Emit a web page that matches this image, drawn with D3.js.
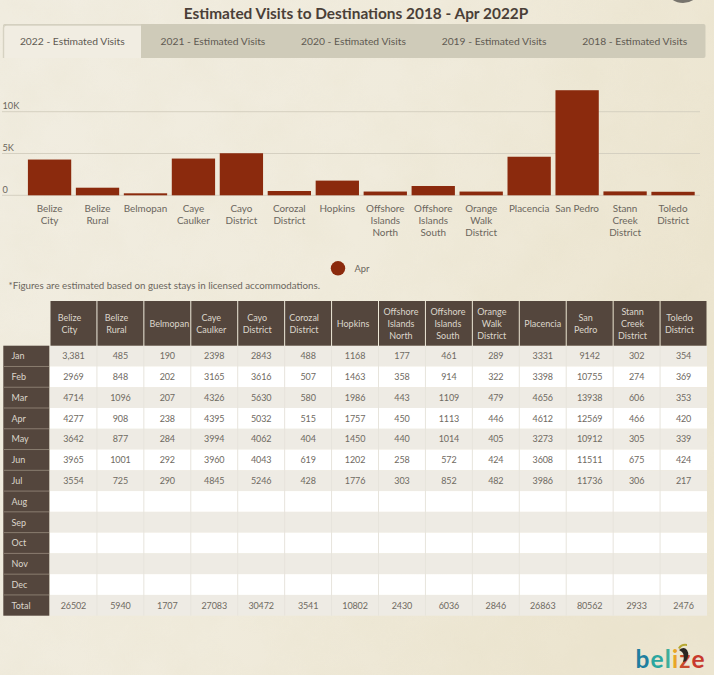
<!DOCTYPE html>
<html><head><meta charset="utf-8">
<script src="https://cdn.jsdelivr.net/npm/d3@7"></script>
<style>
html,body{margin:0;padding:0;background:#f0ebdd;overflow:hidden}
svg{display:block}
text{font-family:"Lato","Noto Sans",sans-serif}
</style></head><body>
<svg id="c" width="714" height="675"></svg>
<script>
const titleText = "Estimated Visits to Destinations 2018 - Apr 2022P";
const tabs = ["2022 - Estimated Visits","2021 - Estimated Visits","2020 - Estimated Visits","2019 - Estimated Visits","2018 - Estimated Visits"];
const note = "*Figures are estimated based on guest stays in licensed accommodations.";
const legendLabel = "Apr";
const yTicks = [0,5000,10000];
const yTickLabels = ["0","5K","10K"];
const destinations = ["Belize City","Belize Rural","Belmopan","Caye Caulker","Cayo District","Corozal District","Hopkins","Offshore Islands North","Offshore Islands South","Orange Walk District","Placencia","San Pedro","Stann Creek District","Toledo District"];
const months = ["Jan","Feb","Mar","Apr","May","Jun","Jul","Aug","Sep","Oct","Nov","Dec","Total"];
const jan = [3381,485,190,2398,2843,488,1168,177,461,289,3331,9142,302,354];
const feb = [2969,848,202,3165,3616,507,1463,358,914,322,3398,10755,274,369];
const mar = [4714,1096,207,4326,5630,580,1986,443,1109,479,4656,13938,606,353];
const apr = [4277,908,238,4395,5032,515,1757,450,1113,446,4612,12569,466,420];
const may = [3642,877,284,3994,4062,404,1450,440,1014,405,3273,10912,305,339];
const jun = [3965,1001,292,3960,4043,619,1202,258,572,424,3608,11511,675,424];
const jul = [3554,725,290,4845,5246,428,1776,303,852,482,3986,11736,306,217];
const total = [26502,5940,1707,27083,30472,3541,10802,2430,6036,2846,26863,80562,2933,2476];
const tableRows = [jan,feb,mar,apr,may,jun,jul,[],[],[],[],[],total];

const svg = d3.select("#c");
const defs = svg.append("defs");

// paper background
const bg = defs.append("linearGradient").attr("id","paper").attr("x1",0).attr("y1",0).attr("x2",1).attr("y2",0.35);
bg.append("stop").attr("offset",0).attr("stop-color","#f1ede1");
bg.append("stop").attr("offset",0.55).attr("stop-color","#f0ebdc");
bg.append("stop").attr("offset",1).attr("stop-color","#ece5d0");
svg.append("rect").attr("width",714).attr("height",675).attr("fill","url(#paper)");
const tx = defs.append("filter").attr("id","tex").attr("x",0).attr("y",0).attr("width","100%").attr("height","100%");
tx.append("feTurbulence").attr("type","fractalNoise").attr("baseFrequency","0.018").attr("numOctaves",4).attr("seed",7);
tx.append("feColorMatrix").attr("type","matrix").attr("values","0 0 0 0 0.72  0 0 0 0 0.66  0 0 0 0 0.45  0.9 0 0 0 -0.3");
svg.append("rect").attr("width",714).attr("height",675).attr("filter","url(#tex)").attr("opacity",0.22);

// top-right badge sliver
svg.append("ellipse").attr("cx",683).attr("cy",-10).attr("rx",16).attr("ry",13).attr("fill","#77746d");

// title
svg.append("text").attr("x",356).attr("y",19).attr("text-anchor","middle")
  .attr("font-size",15.4).attr("font-weight",700).attr("fill","#4a3f38").text(titleText);

// tabs
const tabX = d3.scaleBand().domain(tabs).range([3,706]);
svg.append("rect").attr("x",3).attr("y",24).attr("width",702.5).attr("height",34).attr("rx",2).attr("fill","#cfcbb9");
svg.append("path").attr("d","M3.5 58V28Q3.5 25 6.5 25H141V58Z").attr("fill","#f1ede2");
svg.append("path").attr("d","M3.5 58V28Q3.5 25 6.5 25H141").attr("fill","none").attr("stroke","#d6d2c2").attr("stroke-width",1.4);
svg.selectAll("text.tab").data(tabs).join("text").attr("class","tab")
  .attr("x",d=>tabX(d)+tabX.bandwidth()/2-1).attr("y",44.5)
  .attr("text-anchor","middle").attr("font-size",10.3).attr("fill","#5f5a52").text(d=>d);

// bar chart
const x = d3.scaleBand().domain(destinations).range([25.6,697]).paddingInner(0.097).paddingOuter(0.048);
const y = d3.scaleLinear().domain([0,10000]).range([195.3,111.7]);
svg.selectAll("line.grid").data(yTicks).join("line").attr("class","grid")
  .attr("x1",2).attr("x2",700).attr("y1",d=>y(d)).attr("y2",d=>y(d))
  .attr("stroke","#d5d0c1").attr("stroke-width",1);
svg.selectAll("text.yt").data(yTicks).join("text").attr("class","yt")
  .attr("x",2.5).attr("y",(d,i)=>y(d)-(i===0?2.5:3))
  .attr("font-size",9.2).attr("fill","#6b665d").text((d,i)=>yTickLabels[i]);
svg.selectAll("rect.bar").data(apr).join("rect").attr("class","bar")
  .attr("x",(d,i)=>x(destinations[i])).attr("width",x.bandwidth())
  .attr("y",d=>y(d)).attr("height",d=>y(0)-y(d)).attr("fill","#8b2a0d");

// wrapped category labels
const wrap = (s) => s.split(" ");
destinations.forEach(d=>{
  const lines = d==="San Pedro" ? [d] : wrap(d);
  const t = svg.append("text").attr("text-anchor","middle").attr("font-size",9.9).attr("fill","#6b665d");
  lines.forEach((l,i)=>t.append("tspan").attr("x",x(d)+x.bandwidth()/2).attr("y",211.5+i*12.4).text(l));
});

// legend
svg.append("circle").attr("cx",338).attr("cy",268.3).attr("r",7.2).attr("fill","#8b2a0d");
svg.append("text").attr("x",354.5).attr("y",271.5).attr("font-size",9.4).attr("fill","#6b665d").text(legendLabel);
svg.append("text").attr("x",8.5).attr("y",289).attr("font-size",9.75).attr("fill","#6b665d").text(note);

// table
const cx = d3.scaleBand().domain(destinations).range([50,707]);
const ry = d3.scaleBand().domain(months).range([345.7,615.7]);
const cell = (v,r,c)=> (r===0&&c===0) ? d3.format(",")(v) : v;
const headNudge = d => d==="Belmopan"?2 : d==="Placencia"?0 : d.startsWith("Offshore")?-1 : d==="Hopkins"?-2 : d==="Caye Caulker"?-3 : -4;
svg.selectAll("rect.rowbg").data(months).join("rect").attr("class","rowbg")
  .attr("x",50).attr("y",d=>ry(d)).attr("width",657).attr("height",ry.bandwidth())
  .attr("fill",(d,i)=>i%2===0?"#eeebe4":"#ffffff");
svg.selectAll("line.colsep").data(destinations.slice(1)).join("line").attr("class","colsep")
  .attr("x1",d=>cx(d)).attr("x2",d=>cx(d)).attr("y1",345.7).attr("y2",615.7)
  .attr("stroke","#e7e4dc").attr("stroke-width",1);
svg.selectAll("rect.head").data(destinations).join("rect").attr("class","head")
  .attr("x",d=>cx(d)+0.5).attr("y",301).attr("width",cx.bandwidth()-1).attr("height",44.7).attr("fill","#54463d");
svg.append("rect").attr("x",3.3).attr("y",345.7).attr("width",46).attr("height",270).attr("fill","#54463d");
svg.selectAll("line.rowsep").data(months.slice(1)).join("line").attr("class","rowsep")
  .attr("x1",4).attr("x2",49).attr("y1",d=>ry(d)).attr("y2",d=>ry(d))
  .attr("stroke","#8a7d70").attr("stroke-width",1);
destinations.forEach(d=>{
  const lines = d==="Belmopan"||d==="Hopkins"||d==="Placencia" ? [d] : wrap(d);
  const h = 11.6;
  const c = 327 - (lines.length-1)*h/2;
  const t = svg.append("text").attr("text-anchor","middle").attr("font-size",9).attr("fill","#dcd6cc");
  lines.forEach((l,i)=>t.append("tspan").attr("x",cx(d)+cx.bandwidth()/2+headNudge(d)).attr("y",c+i*h).text(l));
});
svg.selectAll("text.mon").data(months).join("text").attr("class","mon")
  .attr("x",11.5).attr("y",d=>ry(d)+ry.bandwidth()/2+3.3)
  .attr("font-size",9).attr("fill","#dcd6cc").text(d=>d);
tableRows.forEach((row,r)=>{
  row.forEach((v,c)=>{
    svg.append("text").attr("x",cx(destinations[c])+cx.bandwidth()/2).attr("y",ry(months[r])+ry.bandwidth()/2+3.3)
      .attr("text-anchor","middle").attr("font-size",9).attr("letter-spacing",-0.12).attr("fill","#6f6a62").text(cell(v,r,c));
  });
});

// logo
const logo = svg.append("text").attr("x",635.5).attr("y",667.5).attr("font-size",24.5).attr("font-weight",700).attr("letter-spacing",1.1);
[["b","#1f7f9f"],["e","#2aa7a0"],["l","#3fae9a"],["i","#e9a526"],["z","#c9492a"],["e","#c8392c"]]
  .forEach(([ch,col])=>logo.append("tspan").attr("fill",col).text(ch));
svg.append("path").attr("d","M678 648Q681 643 687 644L687 646Q682 645 680 649Z").attr("fill","#b7a832");
svg.append("path").attr("d","M679 650Q684 646 687 650Q690 655 686 661L683 662Q685 655 682 652Z").attr("fill","#2a2522");
</script>
</body></html>
